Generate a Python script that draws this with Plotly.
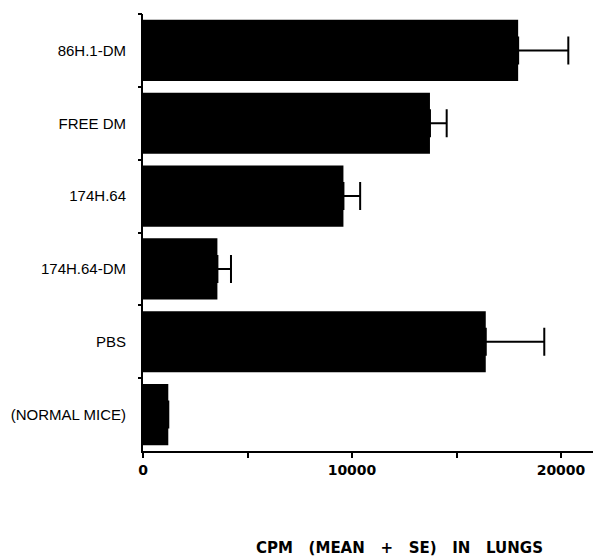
import plotly.graph_objects as go

categories = ["86H.1-DM", "FREE DM", "174H.64", "174H.64-DM", "PBS", "(NORMAL MICE)"]
cpm_mean = [17950, 13730, 9590, 3560, 16400, 1210]
cpm_se = [2400, 800, 800, 650, 2800, None]

x_tickvals = [0, 5000, 10000, 15000, 20000]
x_ticktext = ["0", "", "10000", "", "20000"]
boundaries = [-0.5, 0.5, 1.5, 2.5, 3.5, 4.5]

fig = go.Figure()
fig.add_trace(go.Bar(
    y=categories, x=cpm_mean, orientation="h",
    marker=dict(color="black", line=dict(width=0)),
    width=0.84,
    error_x=dict(type="data", array=[e if e is not None else 0 for e in cpm_se],
                 arrayminus=[0] * len(cpm_se), symmetric=False,
                 color="black", thickness=2, width=14,
                 visible=True),
    showlegend=False,
))
# invisible trace to activate the boundary-tick axis
fig.add_trace(go.Scatter(x=[None], y=[None], yaxis="y2", showlegend=False))

label_font = dict(family="Liberation Sans, Arial, sans-serif", size=15, color="black")
num_font = dict(family="DejaVu Sans, sans-serif", size=14, color="black", weight="bold")

sp = "\u00a0\u00a0\u00a0"
title_text = sp.join(["CPM", "(MEAN", "+", "SE)", "IN", "LUNGS"])

fig.update_layout(
    width=593, height=548,
    margin=dict(l=135, r=0, t=6, b=105),
    plot_bgcolor="white", paper_bgcolor="white",
    xaxis=dict(range=[0, 21914], tickvals=x_tickvals, ticktext=x_ticktext,
               ticks="outside", ticklen=5, tickwidth=2, tickcolor="black",
               showline=True, linecolor="black", linewidth=2,
               showgrid=False, zeroline=False, tickfont=num_font),
    yaxis=dict(categoryorder="array", categoryarray=categories,
               range=[5.5, -0.5], ticks="", showline=True, linecolor="black",
               linewidth=2, showgrid=False, zeroline=False,
               ticklabelstandoff=12, tickfont=label_font),
    yaxis2=dict(overlaying="y", side="left", range=[5.5, -0.5],
                tickvals=boundaries, ticks="outside", ticklen=4, tickwidth=2,
                tickcolor="black", showticklabels=False, showgrid=False,
                zeroline=False, showline=False),
    annotations=[dict(text=title_text,
                      xref="paper", yref="paper", x=0.561, y=-0.222,
                      showarrow=False, xanchor="center", yanchor="middle",
                      font=dict(family="DejaVu Sans, sans-serif",
                                size=15, color="black", weight="bold"))],
)

fig.write_html("out.html")
